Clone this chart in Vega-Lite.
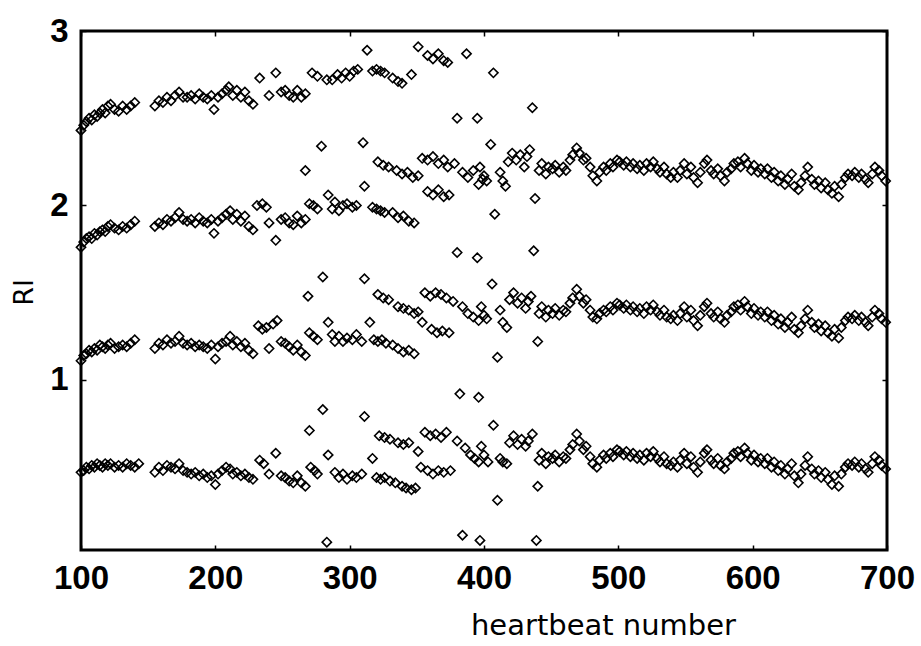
{
  "$schema": "https://vega.github.io/schema/vega-lite/v6.json",
  "width": 806,
  "height": 519,
  "autosize": "none",
  "padding": {"left": 81, "top": 31, "right": 34, "bottom": 96},
  "background": "white",
  "config": {"view": {"stroke": "black", "strokeWidth": 3}},
  "data": {"values": [
    {"x":100,"y":2.43},{"x":102,"y":2.46},{"x":104,"y":2.48},{"x":106,"y":2.50},{"x":108,"y":2.49},{"x":110,"y":2.52},{"x":112,"y":2.51},{"x":114,"y":2.53},{"x":116,"y":2.55},{"x":118,"y":2.53},{"x":120,"y":2.57},{"x":122,"y":2.58},{"x":125,"y":2.55},{"x":128,"y":2.54},{"x":131,"y":2.57},{"x":134,"y":2.55},{"x":137,"y":2.57},{"x":140,"y":2.59},
    {"x":155,"y":2.57},{"x":158,"y":2.60},{"x":161,"y":2.59},{"x":164,"y":2.62},{"x":167,"y":2.60},{"x":170,"y":2.63},{"x":173,"y":2.65},{"x":176,"y":2.62},{"x":179,"y":2.62},{"x":182,"y":2.63},{"x":185,"y":2.61},{"x":188,"y":2.64},{"x":191,"y":2.62},{"x":194,"y":2.61},{"x":197,"y":2.63},{"x":199,"y":2.55},{"x":202,"y":2.62},{"x":205,"y":2.64},{"x":208,"y":2.66},{"x":210,"y":2.68},{"x":213,"y":2.63},{"x":216,"y":2.66},{"x":219,"y":2.62},{"x":222,"y":2.65},{"x":225,"y":2.60},{"x":228,"y":2.58},{"x":233,"y":2.73},{"x":240,"y":2.63},{"x":245,"y":2.76},{"x":249,"y":2.65},{"x":252,"y":2.66},{"x":255,"y":2.63},{"x":258,"y":2.62},{"x":261,"y":2.66},{"x":264,"y":2.62},{"x":267,"y":2.64},{"x":272,"y":2.76},{"x":276,"y":2.74},{"x":283,"y":2.72},{"x":287,"y":2.72},{"x":291,"y":2.75},{"x":294,"y":2.73},{"x":297,"y":2.76},{"x":300,"y":2.74},{"x":303,"y":2.77},{"x":306,"y":2.78},{"x":313,"y":2.89},{"x":317,"y":2.77},{"x":320,"y":2.78},{"x":323,"y":2.77},{"x":326,"y":2.76},{"x":332,"y":2.73},{"x":336,"y":2.71},{"x":339,"y":2.70},{"x":346,"y":2.75},{"x":351,"y":2.91},{"x":358,"y":2.86},{"x":362,"y":2.84},{"x":366,"y":2.87},{"x":370,"y":2.83},{"x":373,"y":2.82},{"x":380,"y":2.50},{"x":387,"y":2.87},{"x":395,"y":2.50},{"x":407,"y":2.76},{"x":436,"y":2.56},

    {"x":100,"y":1.76},{"x":102,"y":1.79},{"x":104,"y":1.81},{"x":106,"y":1.82},{"x":108,"y":1.81},{"x":110,"y":1.84},{"x":112,"y":1.83},{"x":114,"y":1.85},{"x":116,"y":1.86},{"x":118,"y":1.85},{"x":120,"y":1.88},{"x":122,"y":1.89},{"x":125,"y":1.87},{"x":128,"y":1.86},{"x":131,"y":1.88},{"x":134,"y":1.87},{"x":137,"y":1.89},{"x":140,"y":1.91},{"x":155,"y":1.88},{"x":158,"y":1.90},{"x":161,"y":1.89},{"x":164,"y":1.92},{"x":167,"y":1.91},{"x":170,"y":1.93},{"x":173,"y":1.96},{"x":176,"y":1.92},{"x":179,"y":1.91},{"x":182,"y":1.92},{"x":185,"y":1.90},{"x":188,"y":1.93},{"x":191,"y":1.91},{"x":194,"y":1.90},{"x":197,"y":1.92},{"x":199,"y":1.84},{"x":202,"y":1.91},{"x":205,"y":1.93},{"x":208,"y":1.95},{"x":211,"y":1.97},{"x":213,"y":1.92},{"x":216,"y":1.95},{"x":219,"y":1.91},{"x":222,"y":1.94},{"x":225,"y":1.88},{"x":228,"y":1.86},{"x":231,"y":2.00},{"x":235,"y":2.01},{"x":238,"y":1.99},{"x":240,"y":1.90},{"x":245,"y":1.80},{"x":249,"y":1.92},{"x":252,"y":1.93},{"x":255,"y":1.90},{"x":258,"y":1.89},
    {"x":261,"y":1.94},{"x":264,"y":1.90},{"x":267,"y":1.92},{"x":270,"y":2.01},{"x":273,"y":2.00},{"x":276,"y":1.98},{"x":284,"y":2.06},{"x":287,"y":1.98},{"x":289,"y":2.02},{"x":292,"y":1.97},{"x":295,"y":2.00},{"x":298,"y":2.01},{"x":302,"y":1.99},{"x":305,"y":2.00},{"x":311,"y":2.11},{"x":317,"y":1.99},{"x":320,"y":1.98},{"x":323,"y":1.97},{"x":326,"y":1.96},{"x":332,"y":1.96},{"x":336,"y":1.93},{"x":340,"y":1.94},{"x":344,"y":1.91},{"x":348,"y":1.90},{"x":358,"y":2.08},{"x":362,"y":2.06},{"x":366,"y":2.09},{"x":370,"y":2.05},{"x":374,"y":2.06},
    {"x":267,"y":2.20},{"x":279,"y":2.34},{"x":310,"y":2.36},{"x":321,"y":2.25},{"x":325,"y":2.23},{"x":329,"y":2.22},{"x":335,"y":2.20},{"x":339,"y":2.18},{"x":343,"y":2.19},{"x":347,"y":2.16},{"x":351,"y":2.17},{"x":354,"y":2.27},{"x":358,"y":2.26},{"x":362,"y":2.28},{"x":366,"y":2.24},{"x":370,"y":2.26},{"x":373,"y":2.22},{"x":378,"y":2.24},{"x":384,"y":2.19},{"x":388,"y":2.16},{"x":392,"y":2.20},{"x":396,"y":2.12},{"x":399,"y":2.15},
    {"x":380,"y":1.73},{"x":395,"y":1.70},{"x":397,"y":2.22},{"x":400,"y":2.17},{"x":402,"y":2.14},{"x":405,"y":2.35},{"x":408,"y":1.95},{"x":412,"y":2.19},{"x":414,"y":2.14},{"x":416,"y":2.11},{"x":418,"y":2.25},{"x":421,"y":2.30},{"x":424,"y":2.26},{"x":427,"y":2.29},{"x":430,"y":2.22},{"x":432,"y":2.28},{"x":434,"y":2.32},{"x":437,"y":1.74},{"x":438,"y":2.04},
    {"x":441,"y":2.20},{"x":443,"y":2.24},{"x":446,"y":2.18},{"x":448,"y":2.22},{"x":451,"y":2.21},{"x":453,"y":2.23},{"x":456,"y":2.19},{"x":459,"y":2.22},{"x":461,"y":2.20},{"x":464,"y":2.26},{"x":466,"y":2.29},{"x":469,"y":2.33},{"x":471,"y":2.30},{"x":474,"y":2.26},{"x":476,"y":2.27},{"x":479,"y":2.22},{"x":481,"y":2.17},{"x":484,"y":2.14},{"x":486,"y":2.19},{"x":489,"y":2.22},{"x":491,"y":2.20},{"x":494,"y":2.24},{"x":496,"y":2.22},{"x":499,"y":2.26},{"x":501,"y":2.25},{"x":504,"y":2.23},{"x":506,"y":2.25},{"x":509,"y":2.22},{"x":511,"y":2.24},{"x":514,"y":2.21},{"x":516,"y":2.23},{"x":519,"y":2.20},{"x":521,"y":2.24},{"x":524,"y":2.22},{"x":526,"y":2.25},{"x":529,"y":2.21},{"x":531,"y":2.19},{"x":534,"y":2.22},{"x":536,"y":2.18},{"x":539,"y":2.16},{"x":541,"y":2.19},{"x":544,"y":2.16},{"x":546,"y":2.20},{"x":549,"y":2.24},{"x":551,"y":2.18},{"x":554,"y":2.22},{"x":556,"y":2.16},{"x":559,"y":2.13},{"x":561,"y":2.19},{"x":564,"y":2.24},{"x":566,"y":2.26},{"x":569,"y":2.20},{"x":571,"y":2.18},{"x":574,"y":2.21},{"x":576,"y":2.17},{"x":579,"y":2.14},{"x":581,"y":2.19},{"x":584,"y":2.21},{"x":586,"y":2.24},{"x":589,"y":2.25},{"x":591,"y":2.22},{"x":594,"y":2.27},{"x":596,"y":2.24},{"x":599,"y":2.20},{"x":601,"y":2.23},{"x":604,"y":2.19},{"x":606,"y":2.21},{"x":609,"y":2.18},{"x":611,"y":2.21},{"x":614,"y":2.16},{"x":616,"y":2.19},{"x":619,"y":2.14},{"x":621,"y":2.17},{"x":624,"y":2.12},{"x":626,"y":2.15},{"x":629,"y":2.18},{"x":631,"y":2.11},{"x":634,"y":2.09},{"x":636,"y":2.13},{"x":639,"y":2.17},{"x":641,"y":2.22},{"x":644,"y":2.15},{"x":646,"y":2.12},{"x":649,"y":2.14},{"x":651,"y":2.10},{"x":654,"y":2.13},{"x":656,"y":2.09},{"x":659,"y":2.07},{"x":661,"y":2.11},{"x":664,"y":2.05},{"x":666,"y":2.12},{"x":669,"y":2.16},{"x":671,"y":2.18},{"x":674,"y":2.17},{"x":676,"y":2.19},{"x":679,"y":2.16},{"x":681,"y":2.18},{"x":684,"y":2.15},{"x":686,"y":2.13},{"x":689,"y":2.18},{"x":691,"y":2.22},{"x":694,"y":2.20},{"x":696,"y":2.17},{"x":699,"y":2.14},

    {"x":100,"y":1.11},{"x":102,"y":1.14},{"x":104,"y":1.15},{"x":106,"y":1.17},{"x":108,"y":1.16},{"x":110,"y":1.18},{"x":112,"y":1.17},{"x":114,"y":1.20},{"x":116,"y":1.19},{"x":118,"y":1.18},{"x":120,"y":1.20},{"x":122,"y":1.21},{"x":125,"y":1.18},{"x":128,"y":1.19},{"x":131,"y":1.20},{"x":134,"y":1.19},{"x":137,"y":1.21},{"x":140,"y":1.23},{"x":155,"y":1.18},{"x":158,"y":1.21},{"x":161,"y":1.20},{"x":164,"y":1.23},{"x":167,"y":1.21},{"x":170,"y":1.22},{"x":173,"y":1.25},{"x":176,"y":1.21},{"x":179,"y":1.20},{"x":182,"y":1.21},{"x":185,"y":1.19},{"x":188,"y":1.20},{"x":191,"y":1.19},{"x":194,"y":1.18},{"x":197,"y":1.20},{"x":200,"y":1.12},{"x":202,"y":1.19},{"x":205,"y":1.21},{"x":208,"y":1.22},{"x":211,"y":1.25},{"x":213,"y":1.20},{"x":216,"y":1.22},{"x":219,"y":1.19},{"x":222,"y":1.21},{"x":225,"y":1.17},{"x":228,"y":1.15},{"x":232,"y":1.31},{"x":235,"y":1.29},{"x":238,"y":1.30},{"x":240,"y":1.18},{"x":243,"y":1.32},{"x":246,"y":1.34},{"x":249,"y":1.22},{"x":252,"y":1.21},{"x":255,"y":1.19},{"x":258,"y":1.17},
    {"x":261,"y":1.20},{"x":264,"y":1.16},{"x":267,"y":1.14},{"x":270,"y":1.27},{"x":273,"y":1.25},{"x":276,"y":1.23},{"x":284,"y":1.33},{"x":287,"y":1.26},{"x":289,"y":1.22},{"x":292,"y":1.25},{"x":295,"y":1.22},{"x":298,"y":1.24},{"x":302,"y":1.23},{"x":305,"y":1.26},{"x":309,"y":1.22},{"x":315,"y":1.33},{"x":318,"y":1.23},{"x":321,"y":1.22},{"x":324,"y":1.23},{"x":327,"y":1.21},{"x":332,"y":1.20},{"x":336,"y":1.18},{"x":340,"y":1.16},{"x":344,"y":1.17},{"x":348,"y":1.15},{"x":354,"y":1.33},{"x":361,"y":1.29},{"x":365,"y":1.27},{"x":369,"y":1.28},{"x":374,"y":1.27},
    {"x":269,"y":1.48},{"x":280,"y":1.59},{"x":311,"y":1.58},{"x":321,"y":1.49},{"x":325,"y":1.47},{"x":329,"y":1.46},{"x":336,"y":1.42},{"x":340,"y":1.41},{"x":344,"y":1.40},{"x":348,"y":1.38},{"x":351,"y":1.39},{"x":356,"y":1.50},{"x":360,"y":1.48},{"x":364,"y":1.50},{"x":368,"y":1.49},{"x":372,"y":1.47},{"x":377,"y":1.45},{"x":384,"y":1.42},{"x":388,"y":1.38},{"x":392,"y":1.36},{"x":396,"y":1.34},
    {"x":382,"y":0.92},{"x":396,"y":0.90},{"x":398,"y":1.42},{"x":400,"y":1.37},{"x":402,"y":1.35},{"x":406,"y":1.55},{"x":410,"y":1.13},{"x":412,"y":1.40},{"x":414,"y":1.33},{"x":417,"y":1.30},{"x":419,"y":1.46},{"x":422,"y":1.50},{"x":425,"y":1.44},{"x":428,"y":1.47},{"x":431,"y":1.41},{"x":433,"y":1.45},{"x":435,"y":1.48},{"x":440,"y":1.22},
    {"x":441,"y":1.38},{"x":443,"y":1.42},{"x":446,"y":1.36},{"x":448,"y":1.40},{"x":451,"y":1.38},{"x":453,"y":1.41},{"x":456,"y":1.37},{"x":459,"y":1.40},{"x":461,"y":1.39},{"x":464,"y":1.44},{"x":466,"y":1.47},{"x":469,"y":1.52},{"x":471,"y":1.48},{"x":474,"y":1.44},{"x":476,"y":1.46},{"x":479,"y":1.40},{"x":481,"y":1.36},{"x":484,"y":1.35},{"x":486,"y":1.38},{"x":489,"y":1.40},{"x":491,"y":1.39},{"x":494,"y":1.42},{"x":496,"y":1.40},{"x":499,"y":1.44},{"x":501,"y":1.43},{"x":504,"y":1.41},{"x":506,"y":1.43},{"x":509,"y":1.40},{"x":511,"y":1.42},{"x":514,"y":1.39},{"x":516,"y":1.41},{"x":519,"y":1.38},{"x":521,"y":1.42},{"x":524,"y":1.40},{"x":526,"y":1.43},{"x":529,"y":1.39},{"x":531,"y":1.37},{"x":534,"y":1.40},{"x":536,"y":1.36},{"x":539,"y":1.35},{"x":541,"y":1.37},{"x":544,"y":1.34},{"x":546,"y":1.38},{"x":549,"y":1.42},{"x":551,"y":1.36},{"x":554,"y":1.40},{"x":556,"y":1.34},{"x":559,"y":1.31},{"x":561,"y":1.37},{"x":564,"y":1.42},{"x":566,"y":1.44},{"x":569,"y":1.38},{"x":571,"y":1.36},{"x":574,"y":1.39},{"x":576,"y":1.35},{"x":579,"y":1.33},{"x":581,"y":1.37},{"x":584,"y":1.39},{"x":586,"y":1.42},{"x":589,"y":1.43},{"x":591,"y":1.40},{"x":594,"y":1.45},{"x":596,"y":1.42},{"x":599,"y":1.38},{"x":601,"y":1.41},{"x":604,"y":1.37},{"x":606,"y":1.39},{"x":609,"y":1.36},{"x":611,"y":1.39},{"x":614,"y":1.34},{"x":616,"y":1.37},{"x":619,"y":1.32},{"x":621,"y":1.35},{"x":624,"y":1.30},{"x":626,"y":1.33},{"x":629,"y":1.36},{"x":631,"y":1.29},{"x":634,"y":1.27},{"x":636,"y":1.31},{"x":639,"y":1.35},{"x":641,"y":1.40},{"x":644,"y":1.33},{"x":646,"y":1.30},{"x":649,"y":1.32},{"x":651,"y":1.28},{"x":654,"y":1.31},{"x":656,"y":1.27},{"x":659,"y":1.25},{"x":661,"y":1.29},{"x":664,"y":1.24},{"x":666,"y":1.30},{"x":669,"y":1.34},{"x":671,"y":1.36},{"x":674,"y":1.35},{"x":676,"y":1.37},{"x":679,"y":1.34},{"x":681,"y":1.36},{"x":684,"y":1.33},{"x":686,"y":1.31},{"x":689,"y":1.36},{"x":691,"y":1.40},{"x":694,"y":1.38},{"x":696,"y":1.35},{"x":699,"y":1.33},

    {"x":100,"y":0.47},{"x":102,"y":0.48},{"x":104,"y":0.50},{"x":106,"y":0.49},{"x":108,"y":0.51},{"x":110,"y":0.50},{"x":112,"y":0.52},{"x":114,"y":0.51},{"x":116,"y":0.50},{"x":118,"y":0.52},{"x":120,"y":0.51},{"x":122,"y":0.52},{"x":125,"y":0.50},{"x":128,"y":0.51},{"x":131,"y":0.50},{"x":134,"y":0.52},{"x":137,"y":0.51},{"x":140,"y":0.50},{"x":143,"y":0.52},{"x":155,"y":0.47},{"x":158,"y":0.50},{"x":161,"y":0.48},{"x":164,"y":0.51},{"x":167,"y":0.50},{"x":170,"y":0.49},{"x":173,"y":0.52},{"x":176,"y":0.48},{"x":179,"y":0.47},{"x":182,"y":0.46},{"x":185,"y":0.47},{"x":188,"y":0.45},{"x":191,"y":0.46},{"x":194,"y":0.44},{"x":197,"y":0.45},{"x":200,"y":0.40},{"x":202,"y":0.46},{"x":205,"y":0.48},{"x":208,"y":0.50},{"x":211,"y":0.49},{"x":213,"y":0.46},{"x":216,"y":0.47},{"x":219,"y":0.45},{"x":222,"y":0.46},{"x":225,"y":0.44},{"x":228,"y":0.43},{"x":233,"y":0.54},{"x":236,"y":0.52},{"x":240,"y":0.46},{"x":245,"y":0.58},{"x":249,"y":0.45},{"x":252,"y":0.44},{"x":255,"y":0.42},{"x":258,"y":0.41},
    {"x":261,"y":0.45},{"x":264,"y":0.41},{"x":267,"y":0.39},{"x":271,"y":0.50},{"x":274,"y":0.48},{"x":276,"y":0.46},{"x":284,"y":0.57},{"x":289,"y":0.47},{"x":292,"y":0.44},{"x":295,"y":0.46},{"x":298,"y":0.43},{"x":302,"y":0.45},{"x":305,"y":0.44},{"x":309,"y":0.46},{"x":317,"y":0.55},{"x":320,"y":0.44},{"x":323,"y":0.43},{"x":326,"y":0.44},{"x":330,"y":0.42},{"x":334,"y":0.41},{"x":339,"y":0.39},{"x":342,"y":0.38},{"x":346,"y":0.37},{"x":349,"y":0.38},{"x":353,"y":0.50},{"x":358,"y":0.48},{"x":362,"y":0.46},{"x":366,"y":0.48},{"x":370,"y":0.47},{"x":375,"y":0.48},
    {"x":270,"y":0.71},{"x":280,"y":0.83},{"x":311,"y":0.79},{"x":322,"y":0.68},{"x":326,"y":0.67},{"x":330,"y":0.66},{"x":336,"y":0.64},{"x":340,"y":0.63},{"x":344,"y":0.64},{"x":351,"y":0.59},{"x":356,"y":0.70},{"x":360,"y":0.68},{"x":364,"y":0.69},{"x":368,"y":0.67},{"x":372,"y":0.70},{"x":380,"y":0.65},{"x":386,"y":0.61},{"x":390,"y":0.57},{"x":393,"y":0.55},{"x":396,"y":0.53},
    {"x":283,"y":0.07},{"x":384,"y":0.11},{"x":397,"y":0.08},{"x":439,"y":0.08},
    {"x":398,"y":0.62},{"x":400,"y":0.57},{"x":403,"y":0.53},{"x":407,"y":0.74},{"x":410,"y":0.31},{"x":412,"y":0.55},{"x":414,"y":0.53},{"x":417,"y":0.52},{"x":419,"y":0.64},{"x":422,"y":0.68},{"x":425,"y":0.63},{"x":428,"y":0.66},{"x":431,"y":0.62},{"x":433,"y":0.65},{"x":436,"y":0.69},{"x":440,"y":0.39},
    {"x":441,"y":0.54},{"x":443,"y":0.58},{"x":446,"y":0.52},{"x":448,"y":0.56},{"x":451,"y":0.55},{"x":453,"y":0.57},{"x":456,"y":0.53},{"x":459,"y":0.56},{"x":461,"y":0.55},{"x":464,"y":0.60},{"x":466,"y":0.63},{"x":469,"y":0.69},{"x":471,"y":0.65},{"x":474,"y":0.60},{"x":476,"y":0.62},{"x":479,"y":0.56},{"x":481,"y":0.52},{"x":484,"y":0.50},{"x":486,"y":0.54},{"x":489,"y":0.57},{"x":491,"y":0.55},{"x":494,"y":0.58},{"x":496,"y":0.56},{"x":499,"y":0.60},{"x":501,"y":0.59},{"x":504,"y":0.57},{"x":506,"y":0.59},{"x":509,"y":0.56},{"x":511,"y":0.58},{"x":514,"y":0.55},{"x":516,"y":0.57},{"x":519,"y":0.54},{"x":521,"y":0.58},{"x":524,"y":0.56},{"x":526,"y":0.59},{"x":529,"y":0.55},{"x":531,"y":0.53},{"x":534,"y":0.56},{"x":536,"y":0.52},{"x":539,"y":0.51},{"x":541,"y":0.53},{"x":544,"y":0.50},{"x":546,"y":0.54},{"x":549,"y":0.58},{"x":551,"y":0.52},{"x":554,"y":0.56},{"x":556,"y":0.50},{"x":559,"y":0.47},{"x":561,"y":0.53},{"x":564,"y":0.58},{"x":566,"y":0.60},{"x":569,"y":0.54},{"x":571,"y":0.52},{"x":574,"y":0.55},{"x":576,"y":0.51},{"x":579,"y":0.49},{"x":581,"y":0.53},{"x":584,"y":0.55},{"x":586,"y":0.58},{"x":589,"y":0.59},{"x":591,"y":0.56},{"x":594,"y":0.61},{"x":596,"y":0.58},{"x":599,"y":0.54},{"x":601,"y":0.57},{"x":604,"y":0.53},{"x":606,"y":0.55},{"x":609,"y":0.52},{"x":611,"y":0.55},{"x":614,"y":0.50},{"x":616,"y":0.53},{"x":619,"y":0.48},{"x":621,"y":0.51},{"x":624,"y":0.46},{"x":626,"y":0.49},{"x":629,"y":0.52},{"x":631,"y":0.45},{"x":634,"y":0.41},{"x":636,"y":0.46},{"x":639,"y":0.51},{"x":641,"y":0.56},{"x":644,"y":0.49},{"x":646,"y":0.46},{"x":649,"y":0.48},{"x":651,"y":0.44},{"x":654,"y":0.47},{"x":656,"y":0.43},{"x":659,"y":0.40},{"x":661,"y":0.45},{"x":664,"y":0.39},{"x":666,"y":0.46},{"x":669,"y":0.50},{"x":671,"y":0.52},{"x":674,"y":0.51},{"x":676,"y":0.53},{"x":679,"y":0.50},{"x":681,"y":0.52},{"x":684,"y":0.49},{"x":686,"y":0.47},{"x":689,"y":0.52},{"x":691,"y":0.56},{"x":694,"y":0.54},{"x":696,"y":0.51},{"x":699,"y":0.49}
  ]},
  "layer": [
    {
      "mark": {"type": "point", "shape": "diamond", "filled": false, "stroke": "black", "strokeWidth": 1.6, "size": 85, "opacity": 1},
      "encoding": {
        "x": {"field": "x", "type": "quantitative", "scale": {"domain": [100, 700], "nice": false, "zero": false},
          "axis": {"orient": "bottom", "values": [100, 200, 300, 400, 500, 600, 700], "grid": false, "domain": false,
            "tickSize": -5, "tickWidth": 1.5, "tickColor": "black",
            "labelFont": "Liberation Sans", "labelFontSize": 33, "labelFontWeight": "bold", "labelColor": "black", "labelPadding": 17, "labelFlush": false,
            "title": "heartbeat number", "titleFont": "DejaVu Sans", "titleFontSize": 29, "titleFontWeight": "normal", "titleColor": "black",
            "titleX": 522, "titleY": 84, "titleAlign": "center", "titleBaseline": "alphabetic"}},
        "y": {"field": "y", "type": "quantitative", "scale": {"domain": [0.025, 3], "nice": false, "zero": false},
          "axis": {"orient": "left", "values": [1, 2, 3], "grid": false, "domain": false,
            "tickSize": -5, "tickWidth": 1.5, "tickColor": "black",
            "labelFont": "Liberation Sans", "labelFontSize": 33, "labelFontWeight": "bold", "labelColor": "black", "labelPadding": 18, "labelFlush": false,
            "title": "RI", "titleFont": "DejaVu Sans", "titleFontSize": 27, "titleFontWeight": "normal", "titleColor": "black",
            "titleAngle": -90, "titleX": -57, "titleY": 261, "titleAlign": "center", "titleBaseline": "middle"}}
      }
    },
    {
      "mark": {"type": "point", "opacity": 0},
      "encoding": {
        "x": {"field": "x", "type": "quantitative",
          "axis": {"orient": "top", "values": [100, 200, 300, 400, 500, 600, 700], "grid": false, "domain": false, "labels": false, "title": null,
            "tickSize": -5, "tickWidth": 1.5, "tickColor": "black"}},
        "y": {"field": "y", "type": "quantitative",
          "axis": {"orient": "right", "values": [1, 2, 3], "grid": false, "domain": false, "labels": false, "title": null,
            "tickSize": -5, "tickWidth": 1.5, "tickColor": "black"}}
      }
    }
  ],
  "resolve": {"axis": {"x": "independent", "y": "independent"}}
}
